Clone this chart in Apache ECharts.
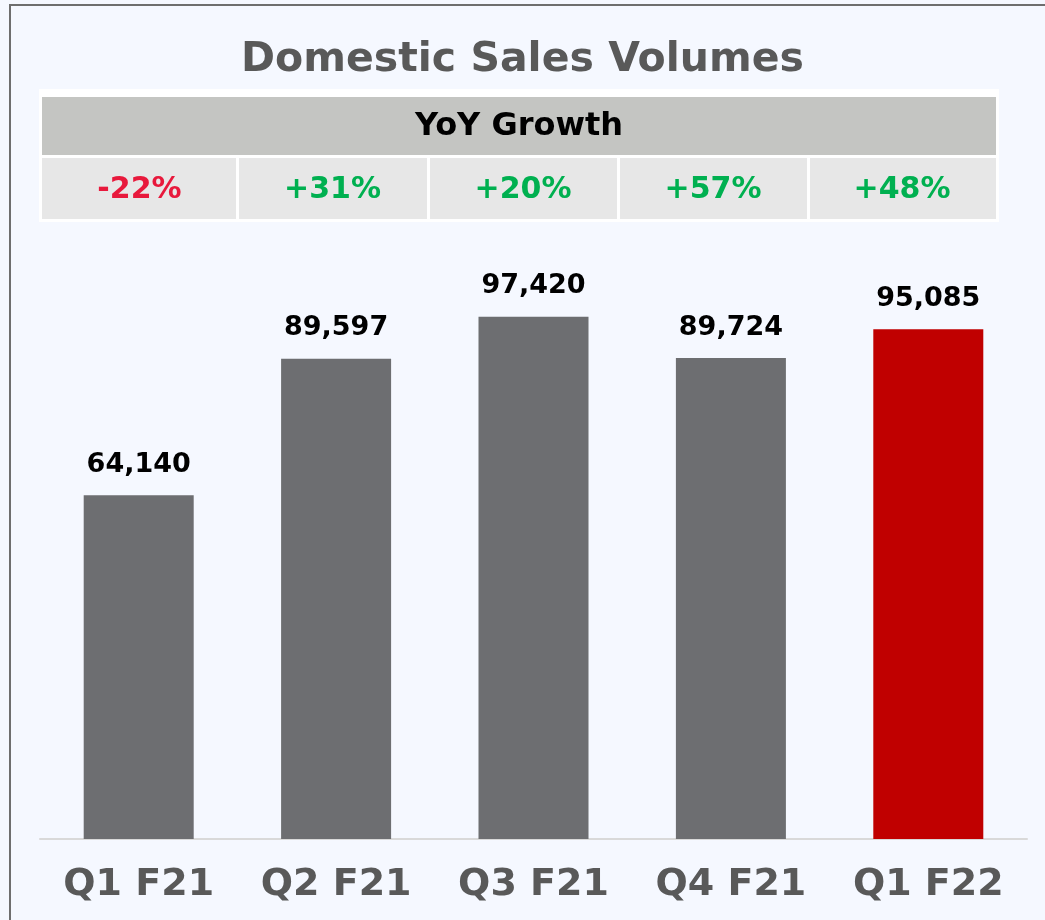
<!DOCTYPE html>
<html><head><meta charset="utf-8">
<script src="https://cdn.jsdelivr.net/npm/echarts@6/dist/echarts.min.js"></script>
<style>html,body{margin:0;padding:0;background:#F5F8FF;}#c{width:1045px;height:920px;}</style>
</head><body><div id="c"></div>
<script>
const categories = ['Q1 F21','Q2 F21','Q3 F21','Q4 F21','Q1 F22'];
const volumes = [64140, 89597, 97420, 89724, 95085];
const barColors = ['#6D6E71','#6D6E71','#6D6E71','#6D6E71','#C00000'];
const growthLabels = ['-22%','+31%','+20%','+57%','+48%'];
const growthColors = ['#E8193C','#00B050','#00B050','#00B050','#00B050'];
const titleText = 'Domestic Sales Volumes';
const tableHeader = 'YoY Growth';

const FONT = '"DejaVu Sans"';
const chart = echarts.init(document.getElementById('c'));

const tblX = 39, tblY = 89, tblW = 960, tblH = 133;
const graphics = [
  {type:'rect', shape:{x:10,y:5,width:1100,height:1000}, style:{fill:'none', stroke:'#6E6E6E', lineWidth:2}, silent:true},
  {type:'rect', shape:{x:tblX,y:tblY,width:tblW,height:tblH}, style:{fill:'#FFFFFF'}, silent:true},
  {type:'rect', shape:{x:42,y:97,width:954,height:58}, style:{fill:'#C4C5C2'}, silent:true},
  {type:'text', x:519, y:127, style:{text:tableHeader, fill:'#000000', font:'bold 32px '+FONT, align:'center', verticalAlign:'middle'}, silent:true}
];
const cellEdges = [42, 237, 428, 618, 808, 996];
growthLabels.forEach((g,i)=>{
  const x0 = cellEdges[i] + (i>0?2:0), x1 = cellEdges[i+1] - (i<4?1:0);
  graphics.push({type:'rect', shape:{x:x0,y:158,width:x1-x0,height:61}, style:{fill:'#E7E7E7'}, silent:true});
  graphics.push({type:'text', x:(cellEdges[i]+cellEdges[i+1])/2, y:190, style:{text:g, fill:growthColors[i], font:'bold 30px '+FONT, align:'center', verticalAlign:'middle'}, silent:true});
});

chart.setOption({
  backgroundColor:'#F5F8FF',
  animation:false,
  title:{text:titleText, left:'center', top:35, textStyle:{fontFamily:FONT, fontWeight:'bold', fontSize:41, color:'#595959'}},
  graphic: graphics,
  grid:{left:40, right:18, top:303, bottom:81, containLabel:false},
  xAxis:{type:'category', data:categories,
    axisLine:{lineStyle:{color:'#D9D9D9', width:2}}, axisTick:{show:false},
    axisLabel:{fontFamily:FONT, fontWeight:'bold', fontSize:38, color:'#595959', margin:27}},
  yAxis:{type:'value', min:0, max:100000, show:false, splitLine:{show:false}},
  series:[{type:'bar', data:volumes.map((v,i)=>({value:v, itemStyle:{color:barColors[i]}})),
    barWidth:110,
    label:{show:true, position:'top', distance:17, fontFamily:FONT, fontWeight:'bold', fontSize:27, color:'#000000',
      formatter:p=>p.value.toLocaleString('en-US')}}]
});
</script></body></html>
